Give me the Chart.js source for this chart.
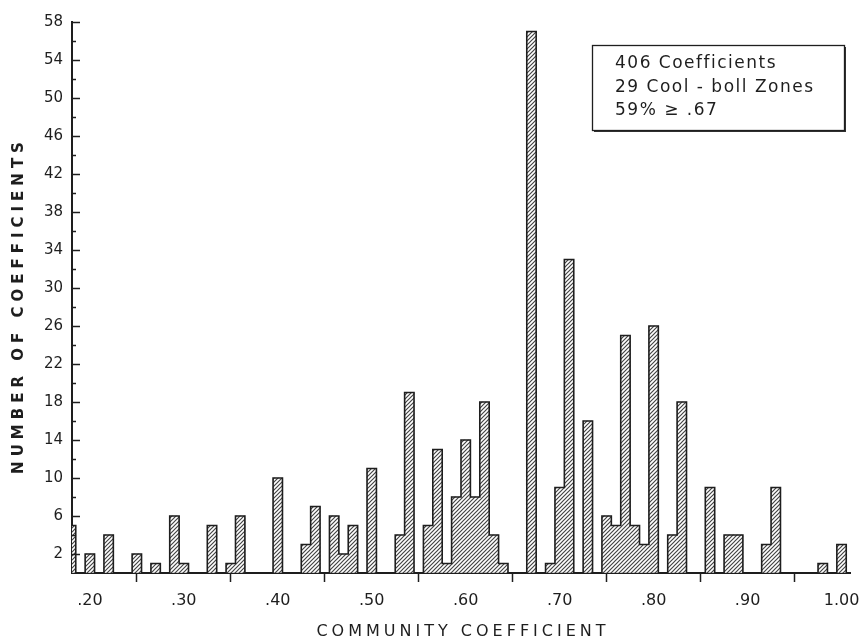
<!DOCTYPE html>
<html><head><meta charset="utf-8">
<script src="https://cdn.jsdelivr.net/npm/chart.js@4/dist/chart.umd.min.js"></script>
<style>html,body{margin:0;padding:0;background:#fff}#wrap{width:860px;height:639px;position:relative}</style>
</head><body><div id="wrap"><canvas id="c"></canvas></div>
<script>
// ---- data (bin centres and counts) ----
const binCenters = [0.18,0.20,0.22,0.25,0.27,0.29,0.30,0.33,0.35,0.36,0.40,0.43,0.44,0.46,0.47,0.48,0.50,0.53,0.54,0.56,0.57,0.58,0.59,0.60,0.61,0.62,0.63,0.64,0.67,0.69,0.70,0.71,0.73,0.75,0.76,0.77,0.78,0.79,0.80,0.82,0.83,0.86,0.88,0.89,0.92,0.93,0.98,1.00];
const counts     = [5,2,4,2,1,6,1,5,1,6,10,3,7,6,2,5,11,4,19,5,13,1,8,14,8,18,4,1,57,1,9,33,16,6,5,25,5,3,26,4,18,9,4,4,3,9,1,3];
const binWidth = 0.01;
const xTickValues = [0.20,0.30,0.40,0.50,0.60,0.70,0.80,0.90,1.00];
const yTickValues = [0,2,4,6,8,10,12,14,16,18,20,22,24,26,28,30,32,34,36,38,40,42,44,46,48,50,52,54,56,58];
const yLabelValues = [2,6,10,14,18,22,26,30,34,38,42,46,50,54,58];
const noteLines = ['406 Coefficients','29 Cool - boll Zones','59% \u2265 .67'];
const xTitle = 'COMMUNITY COEFFICIENT';
const yTitle = 'NUMBER OF COEFFICIENTS';

const INK = '#1e1e1e';

function hatchPattern(){
  const s = 4;
  const p = document.createElement('canvas'); p.width = s; p.height = s;
  const g = p.getContext('2d');
  g.fillStyle = '#fff'; g.fillRect(0,0,s,s);
  g.strokeStyle = '#444'; g.lineWidth = 1.2;
  g.beginPath();
  g.moveTo(-1,s+1); g.lineTo(s+1,-1);
  g.moveTo(-1,1); g.lineTo(1,-1);
  g.moveTo(s-1,s+1); g.lineTo(s+1,s-1);
  g.stroke();
  return g.createPattern(p,'repeat');
}

// histogram outline built from the same data
const outline = [];
binCenters.forEach((c,i)=>{
  const prevAdj = i>0 && Math.abs(binCenters[i-1]-(c-binWidth))<1e-6;
  const nextAdj = i<binCenters.length-1 && Math.abs(binCenters[i+1]-(c+binWidth))<1e-6;
  if(!prevAdj) outline.push({x:c-binWidth,y:0});
  outline.push({x:c,y:counts[i]});
  if(!nextAdj) outline.push({x:c+binWidth,y:0});
});

const decor = {
  id:'decor',
  afterDraw(chart){
    const ctx = chart.ctx, ca = chart.chartArea, ys = chart.scales.y;
    ctx.save();
    // inward y ticks
    ctx.strokeStyle = INK; ctx.lineWidth = 1.5;
    ys.ticks.forEach(t=>{
      if(t.value===0) return;
      const py = Math.round(ys.getPixelForValue(t.value))+0.5;
      const len = yLabelValues.includes(t.value) ? 8 : 4;
      ctx.beginPath(); ctx.moveTo(ca.left, py); ctx.lineTo(ca.left+len, py); ctx.stroke();
    });
    // axis titles
    ctx.fillStyle = INK;
    ctx.font = '16px "DejaVu Sans"';
    ctx.letterSpacing = '4px';
    ctx.textAlign = 'center'; ctx.textBaseline = 'middle';
    ctx.fillText(xTitle, (ca.left+ca.right)/2 + 2, 632);
    ctx.save();
    ctx.translate(19, (ca.top+ca.bottom)/2 + 8);
    ctx.rotate(-Math.PI/2);
    ctx.font = 'bold 15px "DejaVu Sans"';
    ctx.letterSpacing = '5px';
    ctx.fillText(yTitle, 0, 0);
    ctx.restore();
    // note box
    const bx = 592, by = 45, bw = 252, bh = 85;
    ctx.fillStyle = '#333';
    ctx.fillRect(bx+2, by+2, bw, bh);
    ctx.fillStyle = '#fff';
    ctx.fillRect(bx, by, bw, bh);
    ctx.strokeStyle = INK; ctx.lineWidth = 1.3;
    ctx.strokeRect(bx+0.5, by+0.5, bw, bh);
    ctx.fillStyle = INK;
    ctx.font = '17px "DejaVu Sans"';
    ctx.letterSpacing = '1.5px';
    ctx.textAlign = 'left'; ctx.textBaseline = 'middle';
    noteLines.forEach((s,i)=>ctx.fillText(s, 615, 64 + i*23.5));
    ctx.restore();
  }
};

const ctxEl = document.getElementById('c');
new Chart(ctxEl, {
  type:'bar',
  data:{
    datasets:[
      {
        type:'bar',
        data: binCenters.map((c,i)=>({x:c,y:counts[i]})),
        backgroundColor: hatchPattern(),
        borderWidth:0,
        barPercentage:1, categoryPercentage:1, grouped:false,
        order:2
      },
      {
        type:'line',
        data: outline,
        stepped:'middle',
        borderColor: INK, borderWidth:1.6,
        pointRadius:0, fill:false, tension:0,
        order:1
      }
    ]
  },
  options:{
    responsive:true, maintainAspectRatio:false, animation:false,
    devicePixelRatio:1,
    layout:{padding:{left:0,right:10,top:22,bottom:0}},
    plugins:{legend:{display:false}, tooltip:{enabled:false}},
    scales:{
      x:{
        type:'linear', min:0.181, max:1.009, offset:false,
        afterBuildTicks(s){ s.ticks = xTickValues.map(v=>({value:v})); },
        afterFit(s){ s.height = 66; s.paddingLeft = 0; s.paddingRight = 0; },
        grid:{display:true, drawOnChartArea:false, drawTicks:true, tickLength:9, tickColor:INK, tickWidth:1.5},
        border:{display:true, color:INK, width:2},
        ticks:{
          autoSkip:false, maxRotation:0, padding:9, color:INK,
          font:{family:'"DejaVu Sans"', size:16},
          callback:(v)=> v>=0.995 ? '1.00' : '.'+Math.round(v*100)
        }
      },
      y:{
        type:'linear', min:0, max:58,
        afterBuildTicks(s){ s.ticks = yTickValues.map(v=>({value:v})); },
        afterFit(s){ s.width = 72; s.paddingTop = 0; s.paddingBottom = 0; },
        grid:{display:true, drawOnChartArea:false, drawTicks:false},
        border:{display:true, color:INK, width:2},
        ticks:{
          autoSkip:false, padding:9, color:INK,
          font:{family:'"DejaVu Sans"', size:15},
          callback:(v)=> yLabelValues.includes(v) ? String(v) : ''
        }
      }
    }
  },
  plugins:[decor]
});
</script>
</body></html>
